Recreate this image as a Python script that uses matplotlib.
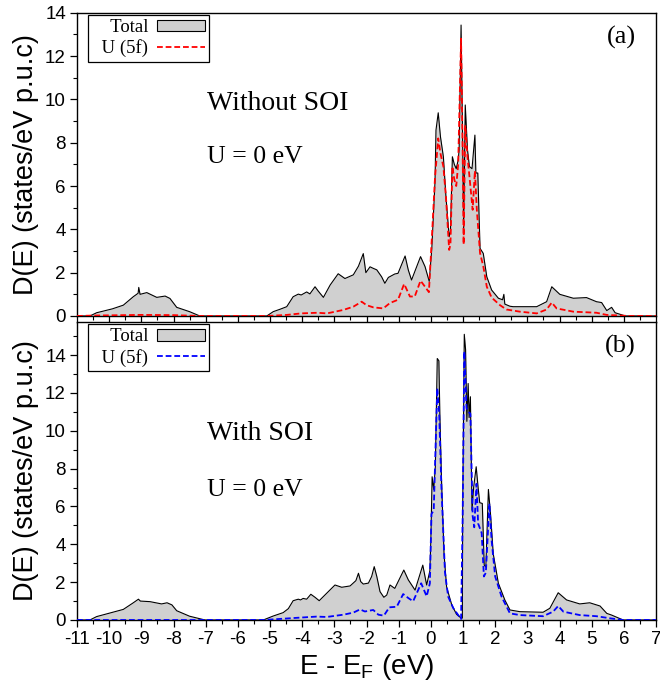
import matplotlib
matplotlib.use("Agg")
import matplotlib.pyplot as plt
from matplotlib.patches import Patch
from matplotlib.lines import Line2D
from matplotlib.ticker import MultipleLocator

# ---------------- data ----------------
# Panel (a): without SOI
e_tot_a = [-11.0, -10.6, -10.39, -9.9, -9.56, -9.25, -9.1, -9.08, -9.04, -8.83, -8.52, -8.26, -8.11,
           -7.90, -7.5, -7.18, -5.1, -4.90, -4.69, -4.48, -4.28, -4.12, -4.03, -3.86, -3.76, -3.60,
           -3.50, -3.34, -3.13, -2.88, -2.67, -2.41, -2.25, -2.10, -2.02, -1.89, -1.79, -1.68, -1.53,
           -1.43, -1.32, -1.12, -1.02, -0.80, -0.70, -0.60, -0.32, -0.18, -0.05, 0.03, 0.13, 0.16,
           0.23, 0.30, 0.39, 0.47, 0.57, 0.61, 0.67, 0.73, 0.79, 0.85, 0.88, 0.94, 0.99, 1.02, 1.07,
           1.14, 1.20, 1.28, 1.37, 1.40, 1.46, 1.53, 1.63, 1.74, 1.89, 2.10, 2.23, 2.27, 2.30, 2.46,
           2.56, 3.29, 3.60, 3.76, 4.01, 4.43, 4.84, 5.15, 5.31, 5.47, 5.62, 5.73, 6.05, 7.0]
d_tot_a = [0, 0, 0.15, 0.33, 0.5, 0.89, 1.05, 1.32, 1.0, 1.08, 0.86, 0.92, 0.81,
           0.40, 0.2, 0, 0, 0.2, 0.31, 0.43, 0.89, 1.01, 0.97, 1.11, 1.02, 1.35,
           1.15, 0.86, 1.43, 1.95, 1.73, 1.9, 2.3, 2.88, 2.0, 2.27, 2.2, 2.13, 1.81,
           1.51, 1.78, 1.94, 1.97, 2.77, 2.12, 1.66, 2.74, 2.28, 1.6, 3.1, 6.2, 8.58,
           9.38, 8.27, 7.35, 5.5, 3.66, 3.9, 7.35, 7.0, 6.8, 7.2, 7.66, 13.43, 7.97, 4.0, 9.74,
           7.66, 6.9, 6.8, 8.35, 6.6, 6.6, 3.12, 2.89, 1.81, 1.2, 0.82, 0.75, 1.0, 0.55, 0.45,
           0.43, 0.43, 0.66, 1.35, 1.0, 0.82, 0.85, 0.66, 0.62, 0.25, 0.4, 0.15, 0, 0]

e_5f_a = [-11.0, -10.5, -9.0, -8.0, -7.2, -5.1, -4.48, -4.03, -3.53, -3.23, -2.72, -2.41, -2.15,
          -2.0, -1.79, -1.48, -1.27, -1.02, -0.83, -0.65, -0.5, -0.32, -0.18, -0.06, 0.05, 0.13,
          0.23, 0.30, 0.39, 0.47, 0.57, 0.61, 0.67, 0.73, 0.79, 0.85, 0.94, 0.99, 1.02, 1.07, 1.14,
          1.20, 1.30, 1.37, 1.43, 1.53, 1.63, 1.74, 1.89, 2.15, 2.35, 2.77, 3.29, 3.60, 3.76, 3.91,
          4.43, 5.15, 5.47, 6.2, 7.0]
d_5f_a = [0, 0.02, 0.05, 0.04, 0, 0, 0.05, 0.12, 0.15, 0.12, 0.28, 0.43, 0.66,
          0.5, 0.40, 0.35, 0.6, 0.75, 1.48, 0.9, 0.9, 1.63, 1.35, 1.1, 4.12, 6.4,
          8.2, 7.5, 6.9, 5.5, 3.05, 3.3, 6.9, 6.3, 6.0, 7.0, 12.8, 7.5, 3.3, 8.8, 7.35,
          6.45, 4.9, 6.7, 4.9, 2.9, 2.3, 1.35, 0.85, 0.5, 0.3, 0.2, 0.12, 0.3, 0.62, 0.35,
          0.2, 0.15, 0.05, 0, 0]

# Panel (b): with SOI
e_tot_b = [-11.0, -10.6, -10.39, -9.56, -9.25, -9.09, -9.03, -8.73, -8.37, -8.2, -8.05, -7.90, -7.5,
           -7.02, -5.21, -4.90, -4.59, -4.43, -4.28, -4.12, -4.05, -3.97, -3.86, -3.73, -3.60, -3.47,
           -3.24, -2.98, -2.77, -2.51, -2.33, -2.25, -2.18, -2.10, -1.94, -1.84, -1.76, -1.68, -1.58,
           -1.46, -1.37, -1.27, -1.12, -0.84, -0.70, -0.49, -0.25, -0.13, -0.03, 0.0, 0.04, 0.09,
           0.14, 0.20, 0.25, 0.28, 0.33, 0.41, 0.49, 0.65, 0.80, 0.95, 0.98, 0.99, 1.04, 1.08, 1.12,
           1.16, 1.19, 1.23, 1.28, 1.33, 1.41, 1.47, 1.52, 1.60, 1.66, 1.71, 1.79, 1.86, 1.94, 2.10,
           2.30, 2.46, 2.77, 3.49, 3.70, 3.96, 4.22, 4.63, 4.94, 5.26, 5.47, 5.62, 5.98, 7.0]
d_tot_b = [0, 0, 0.18, 0.56, 0.91, 1.1, 1.0, 0.97, 0.85, 0.91, 0.8, 0.49, 0.2,
           0, 0, 0.21, 0.39, 0.6, 1.02, 1.1, 1.06, 1.14, 1.1, 1.36, 1.2, 1.02,
           1.41, 1.85, 1.73, 1.8, 2.08, 2.47, 2.03, 1.9, 1.95, 2.3, 2.82, 2.3, 1.5,
           1.2, 1.32, 1.85, 1.67, 2.64, 2.12, 1.58, 2.9, 1.85, 2.6, 4.2, 7.57, 6.9,
           8.1, 13.82, 13.7, 10.9, 7.5, 3.5, 1.75, 0.8, 0.3, 0.09, 0.1, 5.8, 15.1, 14.3, 10.5,
           12.5, 10.7, 11.8, 5.8, 7.0, 8.1, 7.0, 6.2, 6.16, 2.9, 2.8, 6.9, 5.5, 3.5, 1.94,
           1.06, 0.53, 0.44, 0.41, 0.62, 1.44, 1.06, 0.85, 0.91, 0.74, 0.35, 0.26, 0, 0]

e_5f_b = [-11.0, -5.2, -4.12, -3.55, -3.24, -2.72, -2.41, -2.20, -2.05, -1.79, -1.63, -1.46, -1.29,
          -1.06, -0.86, -0.70, -0.55, -0.30, -0.13, -0.03, 0.02, 0.09, 0.20, 0.26, 0.33, 0.44, 0.54,
          0.70, 0.94, 0.99, 1.04, 1.11, 1.17, 1.23, 1.30, 1.35, 1.42, 1.47, 1.58, 1.65, 1.71, 1.82,
          1.89, 2.00, 2.20, 2.46, 2.77, 3.49, 3.80, 3.96, 4.12, 4.63, 5.15, 5.57, 5.98, 7.0]
d_5f_b = [0, 0, 0.12, 0.18, 0.16, 0.28, 0.39, 0.56, 0.45, 0.53, 0.28, 0.23, 0.67,
          0.7, 1.37, 1.16, 0.99, 1.94, 1.25, 1.94, 5.6, 5.8, 12.25, 10.9, 7.0, 2.5, 1.23,
          0.62, 0.05, 5.5, 14.2, 11.2, 11.0, 10.9, 5.5, 4.9, 7.2, 5.1, 4.6, 2.3, 2.5, 6.16,
          4.2, 2.3, 1.23, 0.35, 0.26, 0.2, 0.44, 0.74, 0.44, 0.26, 0.2, 0.09, 0, 0]

x_ticks = list(range(-11, 8))
x_labels = [str(t) for t in x_ticks]
panel_labels = ["(a)", "(b)"]
soi_texts = ["Without SOI", "With SOI"]
u_text = "U = 0 eV"
legend_labels = ["Total", "U (5f)"]
ylims = [14, 15.75]
pdos_colors = ["#ff0000", "#0000ff"]

# ---------------- figure ----------------
sans = ["Liberation Sans", "DejaVu Sans"]
serif = ["Liberation Serif", "DejaVu Serif"]
plt.rcParams["font.family"] = sans

W, H = 660, 690
fig = plt.figure(figsize=(W / 100, H / 100), dpi=100)
L, R = 77 / W, 656 / W
ax_a = fig.add_axes([L, 1 - 316 / H, R - L, (316 - 12.7) / H])
ax_b = fig.add_axes([L, 1 - 620 / H, R - L, (620 - 322) / H])

fill_color = "#d0d0d0"
data = [(e_tot_a, d_tot_a, e_5f_a, d_5f_a), (e_tot_b, d_tot_b, e_5f_b, d_5f_b)]
text_y = [(0.702, 0.524), (0.6275, 0.436)]

for i, ax in enumerate([ax_a, ax_b]):
    et, dt, ep, dp = data[i]
    ax.fill_between(et, 0, dt, color=fill_color, lw=0, zorder=1)
    ax.plot(et, dt, color="black", lw=0.8, zorder=2)
    ax.plot(ep, dp, color=pdos_colors[i], lw=1.3, dashes=(3.2, 1.6), zorder=3)
    ax.set_xlim(-11, 7)
    ax.set_ylim(0, ylims[i])
    ax.xaxis.set_major_locator(MultipleLocator(1))
    ax.xaxis.set_minor_locator(MultipleLocator(0.5))
    ax.yaxis.set_major_locator(MultipleLocator(2))
    ax.yaxis.set_minor_locator(MultipleLocator(1))
    ax.tick_params(which="major", direction="out", length=5, width=0.9, labelsize=13.5,
                   top=False, right=False, pad=3)
    ax.tick_params(which="minor", direction="out", length=3, width=0.8, top=False, right=False)
    for sp in ax.spines.values():
        sp.set_linewidth(1.0)
    ax.set_ylabel("D(E) (states/eV p.u.c)", fontsize=19.5)
    ax.yaxis.set_label_coords(-0.066, 0.5)

    ax.text(0.2245, text_y[i][0], soi_texts[i], transform=ax.transAxes, family=serif,
            fontsize=20, ha="left", va="center")
    ax.text(0.2245, text_y[i][1], u_text, transform=ax.transAxes, family=serif,
            fontsize=18.5, ha="left", va="center")
    ax.text(0.9655, 0.917, panel_labels[i], transform=ax.transAxes, family=serif,
            fontsize=19, ha="right", va="center")

    handles = [Patch(facecolor=fill_color, edgecolor="black", linewidth=0.8),
               Line2D([], [], color=pdos_colors[i], lw=1.3, dashes=(3.2, 1.6))]
    labels = ["  " + s for s in legend_labels]
    anchor_y = 1 - 2.3 / ax.bbox.height * (fig.dpi / 100)
    leg = ax.legend(handles, labels, loc="upper left", markerfirst=False,
                    bbox_to_anchor=(11 / 579, anchor_y),
                    prop={"family": serif, "size": 13.5}, frameon=True, fancybox=False,
                    framealpha=1, edgecolor="black", borderpad=0.22, labelspacing=0.18,
                    handlelength=2.6, handleheight=0.6, handletextpad=0.45, borderaxespad=0.0)
    leg.get_frame().set_linewidth(0.9)
    for t in leg.get_texts():
        t.set_ha("right")

ax_a.tick_params(axis="x", labelbottom=False)
ax_b.set_xticks(x_ticks)
ax_b.set_xticklabels(x_labels)
ax_b.set_xlabel("E - E$_\\mathregular{F}$ (eV)", fontsize=20, labelpad=3)

fig.savefig("out.png", dpi=100)
